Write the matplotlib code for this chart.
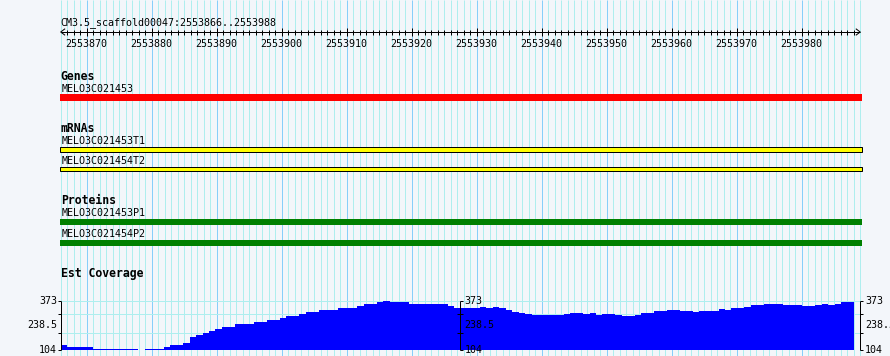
import numpy as np
import matplotlib
matplotlib.use('Agg')
from matplotlib import pyplot as plt

region = 'CM3.5_scaffold00047'
start, end = 2553866, 2553988

genes = ['MELO3C021453']
mrnas = ['MELO3C021453T1', 'MELO3C021454T2']
proteins = ['MELO3C021453P1', 'MELO3C021454P2']

# est coverage, one value per base
coverage = [129, 123, 123, 118, 118, 112, 112, 112, 112, 112, 112, 107, 104, 107, 112, 112, 121, 129, 129, 145,
            173, 189, 200, 211, 218, 229, 233, 244, 244, 249, 255, 260, 266, 271, 282, 293, 293, 304, 310, 315,
            321, 326, 326, 332, 332, 337, 348, 354, 354, 365, 373, 365, 365, 365, 359, 354, 354, 359, 354, 354,
            343, 337, 337, 337, 337, 338, 333, 339, 333, 326, 314, 307, 300, 298, 298, 298, 298, 298, 302, 305,
            305, 302, 305, 297, 300, 300, 296, 292, 292, 296, 305, 305, 317, 318, 321, 325, 320, 320, 315, 320,
            320, 320, 331, 326, 337, 337, 342, 353, 353, 358, 358, 358, 353, 353, 353, 348, 348, 353, 358, 353,
            358, 365, 365]
cov_ticks = [200, 300]

W, H, dpi = 890, 356, 100
ppb = 6.5          # pixels per base
left_px = 60.7     # where the first base starts
cov_right_px = 854  # coverage bars stop a bit short of the panel edge
bg = '#f3f6fa'
minor_c = '#aeeeee'
major_c = '#87cefa'
lw = 72.0 / dpi    # one pixel
mono = 'DejaVu Sans Mono'
small = 7.2
bold = 8.3

fig = plt.figure(figsize=(W / dpi, H / dpi), dpi=dpi, facecolor=bg)
ax = fig.add_axes([0, 0, 1, 1])
ax.set_xlim(start - left_px / ppb, start + (W - left_px) / ppb)
ax.set_ylim(H, 0)
ax.axis('off')

stop = end + 1
edges = np.arange(start, stop + 1)
majors = edges[edges % 10 == 0]
minors = edges[edges % 10 != 0]

# grid
ax.vlines(minors, 0, H, color=minor_c, lw=lw, zorder=0)
ax.vlines(majors, 0, H, color=major_c, lw=lw, zorder=0)

# ruler
ax.text(start, 24.7, '{}:{}..{}'.format(region, start, end), fontsize=small, family=mono,
        ha='left', va='baseline')
ax.hlines(32, start, stop, color='k', lw=lw)
ax.vlines(edges[1:-1], 30, 34.7, color='k', lw=lw)
ax.vlines(majors, 28, 36, color='k', lw=lw)
ah = 4 / ppb
ax.plot([start + ah, start, start + ah], [29, 32, 35], color='k', lw=lw)
ax.plot([stop - ah, stop, stop - ah], [29, 32, 35], color='k', lw=lw)
for b in majors:
    ax.text(b, 46.7, str(b), fontsize=small, family=mono, ha='center', va='baseline')

# feature tracks
bar_left = start - 0.15
bar_w = stop - bar_left + 0.3


def track_title(y, s):
    ax.text(start, y, s, fontsize=bold, family=mono, weight='bold', ha='left', va='baseline')


def feat_label(y, s):
    ax.text(start + 0.1, y, s, fontsize=small, family=mono, ha='left', va='baseline')


track_title(80, 'Genes')
feat_label(91.7, genes[0])
ax.barh(97.5, bar_w, left=bar_left, height=6.5, color='#ff0000', lw=0)

track_title(132.3, 'mRNAs')
for name, ytxt, ybar in zip(mrnas, [144.3, 164.3], [149.5, 169.2]):
    feat_label(ytxt, name)
    ax.barh(ybar, bar_w, left=bar_left, height=4.2, facecolor='#ffff00', edgecolor='k', lw=lw)

track_title(204, 'Proteins')
for name, ytxt, ybar in zip(proteins, [216, 237], [222, 243]):
    feat_label(ytxt, name)
    ax.barh(ybar, bar_w, left=bar_left, height=6, color='#008000', lw=0)

track_title(276.7, 'Est Coverage')

# coverage panel
lo, hi = min(coverage), max(coverage)
cax = fig.add_axes([0, (H - 350) / H, 1, 49 / H])
cax.set_xlim(ax.get_xlim())
cax.set_ylim(lo, hi)
cax.axis('off')
cax.patch.set_visible(False)

cax.hlines([lo] + cov_ticks + [hi], start, stop, color=minor_c, lw=lw, zorder=0)
n = len(coverage)
bw = (cov_right_px - left_px) / ppb / n
xs = start + np.arange(n) * bw
cax.bar(xs, np.array(coverage) - lo, bottom=lo, width=bw, align='edge', color='#0000ff', lw=0, zorder=2)

mid = (start + stop) / 2
tl = 3 / ppb
labels = [(hi, str(hi)), ((lo + hi) / 2, '{:g}'.format((lo + hi) / 2)), (lo, str(lo))]
for xa, side in [(start, -1), (mid, 0), (stop, 1)]:
    cax.vlines(xa, lo, hi, color='k', lw=lw, zorder=3, clip_on=False)
    for v in [lo, hi] + cov_ticks:
        if side == 0:
            x0, x1 = (xa, xa + tl) if v in (lo, hi) else (xa - tl, xa + tl)
        else:
            x0, x1 = xa, xa + side * tl
        cax.hlines(v, x0, x1, color='k', lw=lw, zorder=3, clip_on=False)
    for v, s in labels:
        if side < 0:
            cax.text(xa - 0.55, v, s, fontsize=small, family=mono, ha='right', va='center', zorder=4)
        elif side == 0:
            cax.text(xa + 0.6, v, s, fontsize=small, family=mono, ha='left', va='center', zorder=4)
        else:
            cax.text(xa + 0.75, v, s, fontsize=small, family=mono, ha='left', va='center', zorder=4,
                     clip_on=False)

fig.savefig('out.png', dpi=dpi, facecolor=bg)
